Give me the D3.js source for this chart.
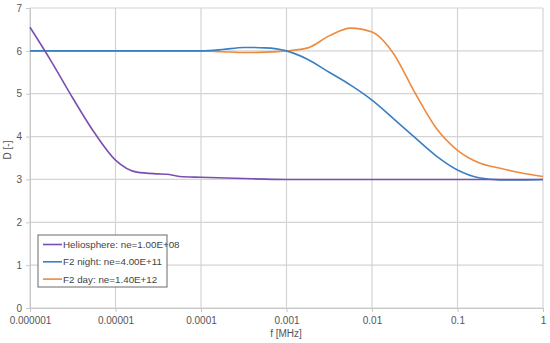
<!DOCTYPE html>
<html>
<head>
<meta charset="utf-8">
<script src="https://cdn.jsdelivr.net/npm/d3@7"></script>
<style>
  body { margin: 0; background: #fff; }
  text { font-family: "Liberation Sans", Arial, sans-serif; }
</style>
</head>
<body>
<div id="chart"></div>
<script>
// data (frequency in MHz, D in [-])
var helioF = [1e-6, 1.78e-6, 3.16e-6, 5.62e-6, 1e-5, 1.78e-5, 3.16e-5, 3.98e-5, 5.62e-5, 1e-4, 3.16e-4, 1e-3, 1e-2, 0.1, 1];
var helioD = [6.55, 5.75, 4.9, 4.1, 3.45, 3.17, 3.13, 3.12, 3.07, 3.05, 3.02, 3.0, 3.0, 3.0, 3.0];

var nightF = [1e-6, 1e-5, 1e-4, 1.78e-4, 3.16e-4, 5.62e-4, 1e-3, 1.78e-3, 3.16e-3, 5.62e-3, 1e-2, 1.78e-2, 3.16e-2, 5.62e-2, 0.1, 0.178, 0.316, 0.562, 1];
var nightD = [6.0, 6.0, 6.0, 6.03, 6.08, 6.07, 6.0, 5.8, 5.5, 5.2, 4.85, 4.42, 3.98, 3.55, 3.22, 3.04, 2.99, 2.99, 3.0];

var dayF = [1e-6, 1e-5, 1e-4, 1.78e-4, 3.39e-4, 5.62e-4, 1e-3, 1.78e-3, 3.16e-3, 5.62e-3, 1e-2, 1.78e-2, 3.16e-2, 5.62e-2, 0.1, 0.178, 0.316, 0.562, 1];
var dayD = [6.0, 6.0, 6.0, 5.98, 5.96, 5.97, 6.0, 6.07, 6.35, 6.53, 6.44, 5.94, 5.03, 4.2, 3.68, 3.39, 3.26, 3.15, 3.07];

var seriesNames = ["Heliosphere: ne=1.00E+08", "F2 night: ne=4.00E+11", "F2 day: ne=1.40E+12"];
var seriesColors = ["#7b4fb2", "#3a80c3", "#ee8a3f"];
var xTicks = [1e-6, 1e-5, 1e-4, 1e-3, 1e-2, 1e-1, 1];
var xTickLabels = ["0.000001", "0.00001", "0.0001", "0.001", "0.01", "0.1", "1"];
var yTicks = [0, 1, 2, 3, 4, 5, 6, 7];

var width = 550, height = 343;
var margin = { left: 30, right: 7, top: 8, bottom: 35 };

var svg = d3.select("#chart").append("svg")
  .attr("width", width)
  .attr("height", height);

var x = d3.scaleLog()
  .domain([1e-6, 1])
  .range([margin.left, width - margin.right]);

var y = d3.scaleLinear()
  .domain([0, 7])
  .range([height - margin.bottom, margin.top]);

// grid
svg.append("g").selectAll("line.h")
  .data(yTicks).enter().append("line")
  .attr("x1", x(1e-6)).attr("x2", x(1))
  .attr("y1", function(d) { return y(d); })
  .attr("y2", function(d) { return y(d); })
  .attr("stroke", "#d4d4d4").attr("stroke-width", 1.2);

svg.append("g").selectAll("line.v")
  .data(xTicks).enter().append("line")
  .attr("x1", function(d) { return x(d); })
  .attr("x2", function(d) { return x(d); })
  .attr("y1", y(0)).attr("y2", y(7))
  .attr("stroke", "#d4d4d4").attr("stroke-width", 1.2);

// axes
var xAxis = d3.axisBottom(x)
  .tickValues(xTicks)
  .tickSize(4)
  .tickFormat(function(d, i) { return xTickLabels[i]; });

var gx = svg.append("g")
  .attr("transform", "translate(0," + y(0) + ")")
  .call(xAxis);
gx.select(".domain").attr("stroke", "#c8c8c8");
gx.selectAll(".tick line").attr("stroke", "#c8c8c8");
gx.selectAll("text").attr("fill", "#555").attr("font-size", 10).attr("dy", "0.9em");

var yAxis = d3.axisLeft(y)
  .tickValues(yTicks)
  .tickSize(4)
  .tickFormat(d3.format("d"));

var gy = svg.append("g")
  .attr("transform", "translate(" + x(1e-6) + ",0)")
  .call(yAxis);
gy.select(".domain").attr("stroke", "#c8c8c8");
gy.selectAll(".tick line").attr("stroke", "#c8c8c8");
gy.selectAll("text").attr("fill", "#555").attr("font-size", 10).attr("x", -8);

// axis titles
svg.append("text")
  .attr("x", 286).attr("y", 337)
  .attr("text-anchor", "middle")
  .attr("font-size", 10).attr("fill", "#555")
  .text("f [MHz]");

svg.append("text")
  .attr("transform", "translate(11,150) rotate(-90)")
  .attr("text-anchor", "middle")
  .attr("font-size", 10).attr("fill", "#555")
  .text("D [-]");

// lines
var line = d3.line()
  .x(function(d) { return x(d[0]); })
  .y(function(d) { return y(d[1]); })
  .curve(d3.curveMonotoneX);

var series = [
  d3.zip(helioF, helioD),
  d3.zip(nightF, nightD),
  d3.zip(dayF, dayD)
];

svg.append("g").selectAll("path")
  .data([series[2], series[1], series[0]]).enter().append("path")
  .attr("d", line)
  .attr("fill", "none")
  .attr("stroke", function(d, i) { return seriesColors[2 - i]; })
  .attr("stroke-width", 1.6);

// legend
var legend = svg.append("g").attr("transform", "translate(38,235)");
legend.append("rect")
  .attr("width", 129).attr("height", 52)
  .attr("fill", "#fff")
  .attr("stroke", "#6a6a6a").attr("stroke-width", 1);

var items = legend.selectAll("g.item")
  .data(seriesNames).enter().append("g")
  .attr("transform", function(d, i) { return "translate(0," + (9.5 + i * 17.3) + ")"; });

items.append("line")
  .attr("x1", 5).attr("x2", 24)
  .attr("stroke", function(d, i) { return seriesColors[i]; })
  .attr("stroke-width", 1.6);

items.append("text")
  .attr("x", 25).attr("dy", "0.35em")
  .attr("font-size", 9.8).attr("fill", "#444")
  .text(function(d) { return d; });
</script>
</body>
</html>
